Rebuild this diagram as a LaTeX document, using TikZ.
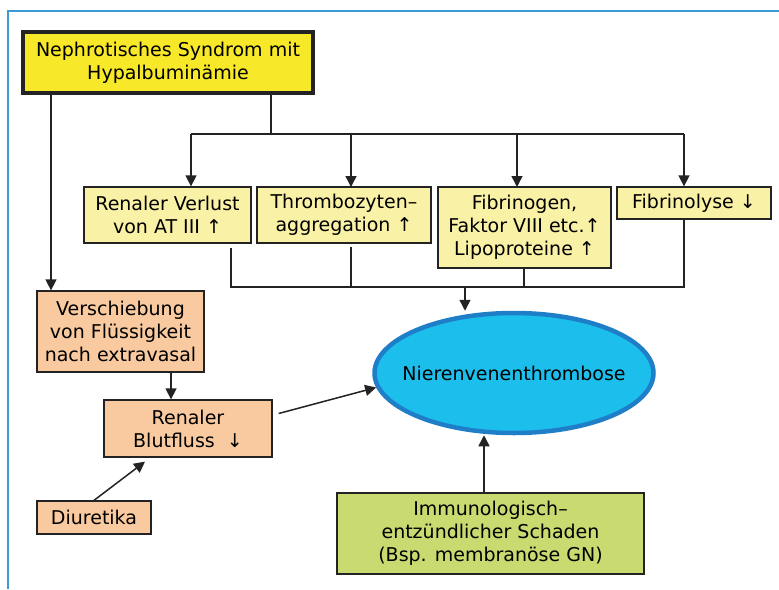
\documentclass[tikz,border=0pt]{standalone}
\usepackage{fontspec}
\setmainfont{DejaVu Sans}
\usepackage{xcolor}
\usepackage{tikz}
\usetikzlibrary{shapes.geometric, arrows.meta, positioning, calc}
\definecolor{frameblue}{RGB}{60,154,212}
\definecolor{lineblack}{RGB}{35,35,35}
\definecolor{signyellow}{RGB}{247,232,42}
\definecolor{paleyellow}{RGB}{249,241,165}
\definecolor{peach}{RGB}{249,202,160}
\definecolor{leafgreen}{RGB}{200,218,112}
\definecolor{lakecyan}{RGB}{28,190,236}
\definecolor{lakeblue}{RGB}{30,126,200}
\tikzstyle{arrow} = [line width=1.5pt, draw=lineblack, -{Triangle[length=11pt,width=11pt]}]
\tikzstyle{link} = [line width=1.5pt, draw=lineblack]
\tikzstyle{box} = [rectangle, draw=lineblack, line width=1.3pt, align=center, inner sep=2pt, font=\fontsize{19}{23}\selectfont]
\tikzstyle{factor} = [box, fill=paleyellow]
\tikzstyle{cause} = [box, fill=peach]

\begin{document}
\begin{tikzpicture}[x=1pt, y=-1pt]
    \useasboundingbox (0,0) rectangle (779,589);
    \draw[frameblue, line width=2pt] (8,589) -- (8,11) -- (779,11);

    % Start
    \node[box, fill=signyellow, line width=3.5pt, minimum width=290pt, minimum height=61pt] (nephro) at (168,62.5) {Nephrotisches Syndrom mit\\Hypalbuminämie};

    % Factors
    \node[factor, minimum width=167pt, minimum height=56pt] (verlust) at (167.5,215) {Renaler Verlust\\von AT III ↑};
    \node[factor, minimum width=174pt, minimum height=56pt] (thrombo) at (344,215) {Thrombozyten–\\aggregation ↑};
    \node[factor, minimum width=173pt, minimum height=81pt] (fibrinogen) at (524.5,227.5) {Fibrinogen,\\Faktor VIII etc.↑\\Lipoproteine ↑};
    \node[factor, minimum width=154pt, minimum height=32pt] (fibrinolyse) at (694,203) {Fibrinolyse ↓};

    % Left branch
    \node[cause, minimum width=167pt, minimum height=81pt] (verschiebung) at (120.5,331.5) {Verschiebung\\von Flüssigkeit\\nach extravasal};
    \node[cause, minimum width=168pt, minimum height=57pt] (blutfluss) at (188,428.5) {Renaler\\Blutfluss \ ↓};
    \node[cause, minimum width=114pt, minimum height=33pt] (diuretika) at (94,517.5) {Diuretika};

    % Result
    \node[ellipse, draw=lakeblue, fill=lakecyan, line width=4.5pt, inner xsep=-20pt, inner ysep=0pt, minimum width=279pt, minimum height=120pt, font=\fontsize{19}{23}\selectfont] (thrombose) at (514,373) {Nierenvenenthrombose};
    \node[box, fill=leafgreen, minimum width=307pt, minimum height=81pt] (immun) at (490.5,533.5) {Immunologisch–\\entzündlicher Schaden\\(Bsp. membranöse GN)};

    % Points
    \coordinate (split) at (271,134);
    \coordinate (d1) at (191,134);
    \coordinate (d4) at (684,134);
    \coordinate (j1) at (231,287);
    \coordinate (j4) at (684,287);
    \coordinate (jm) at (465,287);
    \coordinate (nl) at (51,93);
    \coordinate (vb) at (171,372);
    \coordinate (up) at (484,493);

    % Arrows
    \draw[link] (nephro.south -| split) -- (split);
    \draw[link] (d1) -- (d4);
    \draw[arrow] (d1) -- (d1 |- verlust.north);
    \draw[arrow] (351,134) -- (351,187);
    \draw[arrow] (517,134) -- (517,187);
    \draw[arrow] (d4) -- (d4 |- fibrinolyse.north);
    \draw[link, shorten <=4pt] (j1 |- verlust.south) -- (j1) -- (j4) -- (j4 |- fibrinolyse.south);
    \draw[link, shorten <=4pt] (351,243) -- (351,287);
    \draw[link] (524,268) -- (524,287);
    \draw[arrow] (jm) -- (jm |- thrombose.north);
    \draw[arrow] (nl) -- (nl |- verschiebung.north);
    \draw[arrow] (vb) -- (vb |- blutfluss.north);
    \draw[arrow] ($(blutfluss.east)+(6,-15)$) -- (thrombose.186);
    \draw[arrow] (diuretika.north) -- ($(blutfluss.south)+(-43,4)$);
    \draw[arrow] (up) -- (up |- thrombose.south);
\end{tikzpicture}
\end{document}
